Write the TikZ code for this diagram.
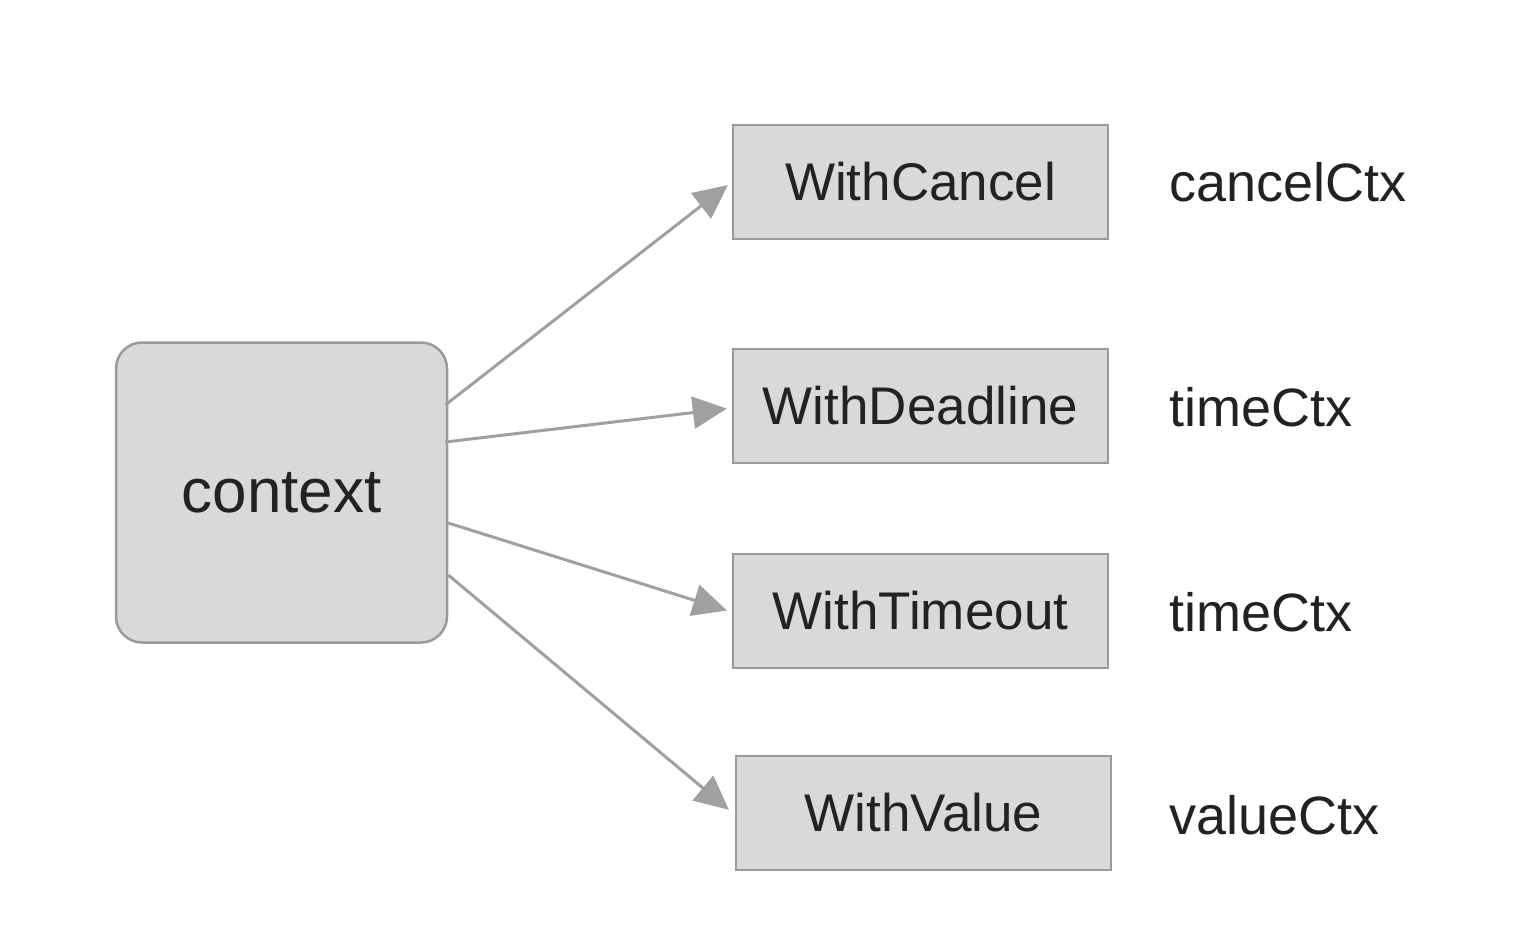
\documentclass[tikz,border=0pt]{standalone}
\usepackage{fontspec}
\setmainfont{Liberation Sans}
\usetikzlibrary{arrows.meta}
\definecolor{boxfill}{HTML}{D9D9D9}
\definecolor{boxdraw}{HTML}{9A9A9A}
\definecolor{arrcol}{HTML}{A0A0A0}
\definecolor{txt}{HTML}{222222}
\begin{document}
\begin{tikzpicture}[x=1pt,y=-1pt,
  fnbox/.style={draw=boxdraw,fill=boxfill,line width=2.5pt,minimum width=375pt,minimum height=114pt,inner sep=0pt,text=txt,font=\fontsize{53}{60}\selectfont},
  ctxbox/.style={draw=boxdraw,fill=boxfill,line width=2.5pt,rounded corners=26pt,minimum width=331pt,minimum height=300pt,inner sep=0pt,text=txt,font=\fontsize{62}{70}\selectfont},
  lbl/.style={anchor=west,inner sep=0pt,text=txt,font=\fontsize{54}{60}\selectfont},
  arr/.style={draw=arrcol,line width=3pt,-{Triangle[length=34pt,width=32pt]},shorten >=5pt}]
\useasboundingbox (0,0) rectangle (1536,946);
\node[ctxbox] (ctx) at (281.5,492.5) {context};
\node[fnbox] (c1) at (920.5,182) {WithCancel};
\node[fnbox] (c2) at (920.5,406) {WithDeadline};
\node[fnbox] (c3) at (920.5,611) {WithTimeout};
\node[fnbox] (c4) at (923.5,813) {WithValue};
\node[lbl] (l1) at (1169,182) {cancelCtx};
\node[lbl] (l2) at (1169,407) {timeCtx};
\node[lbl] (l3) at (1169,612) {timeCtx};
\node[lbl] (l4) at (1169,815) {valueCtx};
\draw[arr] ([xshift=-3pt,yshift=87.5pt]ctx.east) -- (c1.west);
\draw[arr] ([xshift=-3pt,yshift=50.5pt]ctx.east) -- ([yshift=-2pt]c2.west);
\draw[arr] ([yshift=-30.5pt]ctx.east) -- ([yshift=-1pt]c3.west);
\draw[arr] ([yshift=-82.5pt]ctx.east) -- ([xshift=-2pt]c4.west);
\end{tikzpicture}
\end{document}
